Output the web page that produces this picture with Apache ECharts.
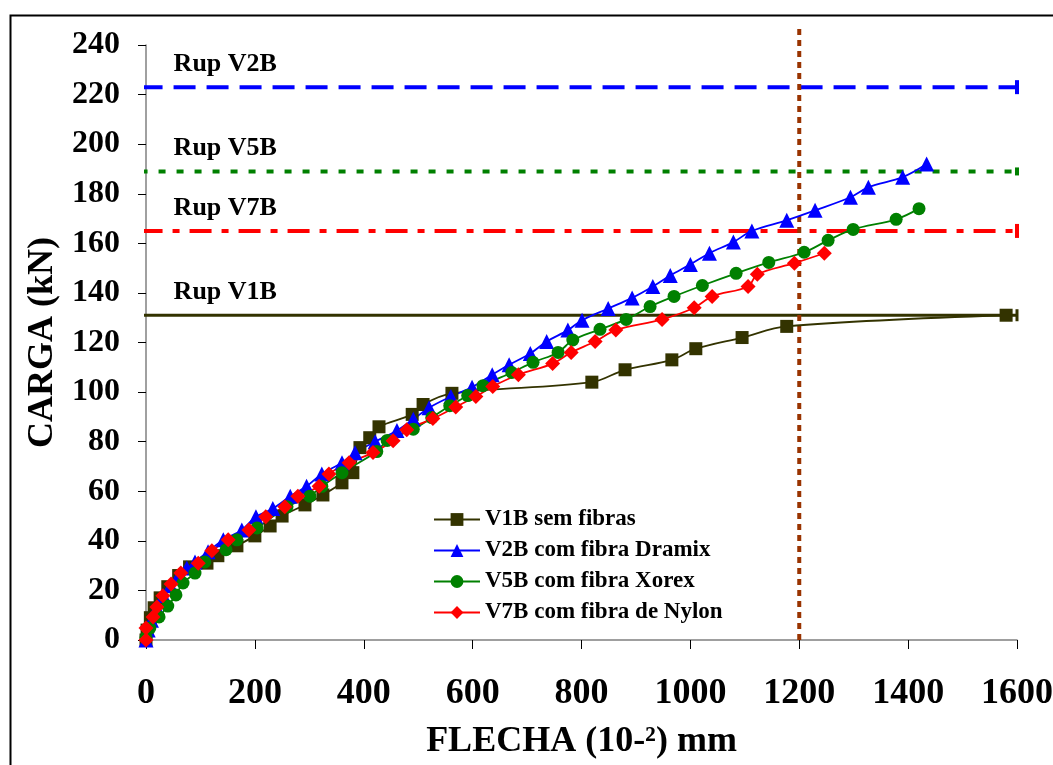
<!DOCTYPE html>
<html>
<head>
<meta charset="utf-8">
<script src="https://cdn.jsdelivr.net/npm/echarts@6/dist/echarts.min.js"></script>
<style>
  html, body { margin: 0; padding: 0; background: #fff; }
  #chart { width: 1053px; height: 765px; }
</style>
</head>
<body>
<div id="chart"></div>
<script>
// valores: [flecha (10-2 mm), carga (kN)]
const v1b = [[0,0],[2,4],[8,9],[15,13],[26,17],[40,21.5],[60,26],[80,29.5],[112,31],[132,34],[167,38],[200,42],[228,46],[250,50],[292,54.5],[325,58.5],[360,63.4],[380,67.5],[393,77.6],[411,81.6],[428,86],[489,91],[509,95],[562,99.5],[819,104],[880,109],[966,113],[1010,117.5],[1095,122],[1177,126.5],[1580,131]];
const v2b = [[0,0],[4,4],[10,8],[20,13],[32,18],[45,22],[60,26],[75,29],[90,31.5],[114,35.6],[142,40.4],[176,44.4],[202,49.7],[233,53],[265,58],[295,62],[323,67],[360,71.5],[384,75.5],[421,80],[461,84.5],[491,89],[520,93.7],[560,98.2],[599,102],[636,107],[667,111],[706,115.6],[736,120.4],[775,125],[801,129],[849,133.7],[893,138],[931,142.6],[963,147],[1000,151.5],[1035,156],[1079,160.5],[1113,165],[1177,169.3],[1229,173.3],[1294,178.6],[1327,182.6],[1390,186.7],[1434,192]];
const v5b = [[0,1],[7,4.8],[24,9.3],[40,13.7],[55,18.2],[68,23],[90,27],[108,31.5],[147,36.4],[167,40.4],[204,45.2],[259,53.7],[301,58],[323,62],[360,67.5],[424,76],[443,80.5],[491,85],[525,89.7],[558,94.5],[591,98.6],[619,102.6],[672,107.9],[711,112],[757,116],[784,121],[834,125.3],[882,129.3],[926,134.5],[970,138.6],[1022,143],[1084,147.9],[1144,152.3],[1209,156.4],[1253,161.2],[1299,165.6],[1378,169.7],[1420,174]];
const v7b = [[0,0],[0,4.8],[13,9.3],[20,13.3],[31,17.8],[46,22.6],[64,27],[96,31],[121,36],[151,40.4],[189,44.4],[220,49.7],[255,53.7],[279,58],[318,62],[336,67],[373,71.5],[417,75.6],[454,80.4],[479,84.8],[527,89.3],[569,94],[606,98.2],[637,102.3],[684,107],[747,111.5],[781,116],[825,120.4],[863,125],[948,129.3],[1007,134],[1040,138.6],[1106,142.6],[1123,147.5],[1191,152],[1246,156]];

// cargas de ruptura
const rupNames = ['Rup V2B', 'Rup V5B', 'Rup V7B', 'Rup V1B'];
const rupValues = [223, 189, 165, 131];
const flechaLimite = 1200;

const seriesNames = ['V1B sem fibras', 'V2B com fibra Dramix', 'V5B com fibra Xorex', 'V7B com fibra de Nylon'];
const xTicks = [0, 1600, 200];
const yTicks = [0, 240, 20];

const font = 'Liberation Serif';
const chart = echarts.init(document.getElementById('chart'));

function rupLine(i, color, type, width, capSize) {
  return {
    name: rupNames[i],
    type: 'line',
    clip: false,
    silent: true,
    z: 1,
    lineStyle: { color: color, width: width, type: type },
    itemStyle: { color: color },
    data: [
      { value: [-10, rupValues[i]], symbol: 'circle', symbolSize: 0.1,
        label: { show: true, formatter: rupNames[i], position: 'right', offset: [28, -23],
          color: '#000', fontFamily: font, fontWeight: 'bold', fontSize: 26 } },
      { value: [1600, rupValues[i]], symbol: 'rect', symbolSize: capSize }
    ]
  };
}

function dataSeries(name, data, color, symbol, size) {
  return {
    name: name,
    type: 'line',
    data: data,
    smooth: 0.35,
    symbol: symbol,
    symbolSize: size,
    z: 5,
    lineStyle: { color: color, width: 1.8 },
    itemStyle: { color: color }
  };
}

const option = {
  animation: false,
  backgroundColor: '#fff',
  textStyle: { fontFamily: font },
  graphic: [{
    type: 'rect', left: 8, top: 13, shape: { width: 1100, height: 800 },
    style: { fill: 'none', stroke: '#000', lineWidth: 2 }, silent: true
  }],
  grid: { left: 146, right: 36, top: 45, bottom: 125, outerBoundsMode: 'none' },
  legend: {
    data: seriesNames,
    orient: 'vertical',
    left: 428,
    top: 503,
    itemWidth: 46,
    itemHeight: 16,
    itemGap: 8,
    textStyle: { fontFamily: font, fontWeight: 'bold', fontSize: 23, color: '#000' }
  },
  xAxis: {
    type: 'value',
    min: xTicks[0], max: xTicks[1], interval: xTicks[2],
    name: 'FLECHA (10-²) mm',
    nameLocation: 'middle',
    nameGap: 84,
    nameTextStyle: { fontFamily: font, fontWeight: 'bold', fontSize: 36, color: '#000' },
    axisLine: { lineStyle: { color: '#808080', width: 1.5 } },
    axisTick: { show: true, length: 9, lineStyle: { color: '#000' } },
    axisLabel: { margin: 36, fontFamily: font, fontWeight: 'bold', fontSize: 36, color: '#000',
      formatter: v => String(v) },
    splitLine: { show: false }
  },
  yAxis: {
    type: 'value',
    min: yTicks[0], max: yTicks[1], interval: yTicks[2],
    name: 'CARGA (kN)',
    nameLocation: 'middle',
    nameGap: 82,
    nameRotate: 90,
    nameTextStyle: { fontFamily: font, fontWeight: 'bold', fontSize: 36, color: '#000' },
    axisLine: { show: true, lineStyle: { color: '#808080', width: 1.5 } },
    axisTick: { show: true, length: 8, lineStyle: { color: '#000' } },
    axisLabel: { margin: 26, fontFamily: font, fontWeight: 'bold', fontSize: 32, color: '#000',
      formatter: v => String(v) },
    splitLine: { show: false }
  },
  series: [
    rupLine(0, '#0000ff', [22, 11], 4, [4, 14]),
    rupLine(1, '#008000', [7, 11], 4, [4, 8]),
    rupLine(2, '#ff0000', [22, 10, 7, 10], 4, [4, 14]),
    rupLine(3, '#333300', 'solid', 3, [3, 12]),
    {
      name: 'limite',
      type: 'line',
      clip: false,
      silent: true,
      symbol: 'none',
      z: 2,
      lineStyle: { color: '#993300', width: 4, type: [6, 5] },
      data: [[flechaLimite, 0], [flechaLimite, 247.5]]
    },
    dataSeries(seriesNames[0], v1b, '#333300', 'rect', 13),
    dataSeries(seriesNames[1], v2b, '#0000ff', 'triangle', 15),
    dataSeries(seriesNames[2], v5b, '#008000', 'circle', 13),
    dataSeries(seriesNames[3], v7b, '#ff0000', 'diamond', 15)
  ]
};

chart.setOption(option);
</script>
</body>
</html>
